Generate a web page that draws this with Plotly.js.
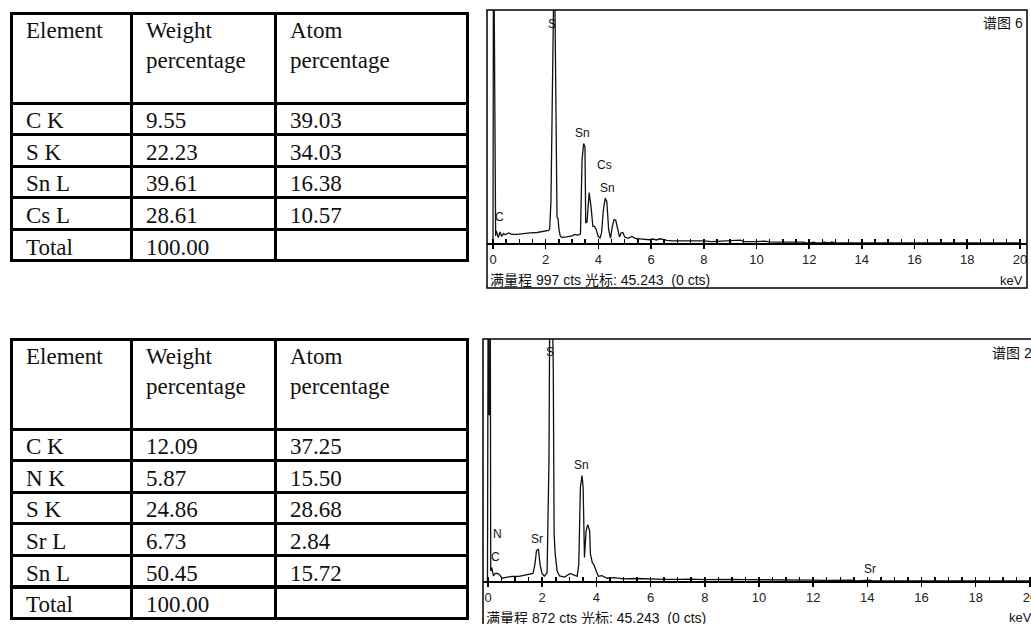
<!DOCTYPE html>
<html><head><meta charset="utf-8">
<script src="https://cdn.plot.ly/plotly-3.0.1.min.js"></script>
<style>html,body{margin:0;padding:0;background:#fff;}#chart{width:1031px;height:624px;}</style>
</head><body><div id="chart"></div>
<script>
// ---- Table data ----
const tableHeader = ['Element', 'Weight<br>percentage', 'Atom<br>percentage'];
const tab1Element = ['C K', 'S K', 'Sn L', 'Cs L', 'Total'];
const tab1Weight  = ['9.55', '22.23', '39.61', '28.61', '100.00'];
const tab1Atom    = ['39.03', '34.03', '16.38', '10.57', ''];
const tab2Element = ['C K', 'N K', 'S K', 'Sr L', 'Sn L', 'Total'];
const tab2Weight  = ['12.09', '5.87', '24.86', '6.73', '50.45', '100.00'];
const tab2Atom    = ['37.25', '15.50', '28.68', '2.84', '15.72', ''];

// ---- Spectrum 1 (谱图 6), counts, full scale 997 ----
const spec1Kev = [-0.02,0,0.02,0.05,0.06,0.08,0.10,0.11,0.16,0.20,0.27,0.33,0.40,0.46,0.59,0.71,0.90,1.16,1.41,1.67,1.92,2.11,2.15,2.20,2.24,2.27,2.33,2.36,2.40,2.43,2.47,2.50,2.55,2.60,2.80,3.00,3.10,3.20,3.30,3.32,3.38,3.44,3.49,3.52,3.57,3.65,3.72,3.79,3.85,3.92,3.99,4.06,4.12,4.19,4.26,4.32,4.39,4.46,4.53,4.59,4.66,4.73,4.80,4.86,4.93,5.00,5.13,5.27,5.40,5.67,5.94,6.07,6.20,6.34,6.60,6.80,7.00,7.20,7.50,7.80,8.00,8.30,8.50,8.80,9.00,9.40,9.50,9.80,10.00,10.30,10.50,10.80,11.00,11.40,11.80,11.90,12.00,12.20,12.25,12.50,12.55,12.80,12.85,13.00,20.00];
const spec1Cts = [0,0,1500,1500,760,760,30,54,40,23,47,28,41,35,43,37,37,41,43,45,51,54,60,180,525,1300,1300,910,250,110,105,60,30,24,26,31,37,34,37,40,355,426,412,85,90,216,156,71,71,57,28,21,43,142,192,178,57,21,71,99,97,57,26,43,45,26,20,28,20,17,14,17,13,18,11,9,9,7,8,10,9,6,7,9,7,12,6,5,6,8,5,4,4,5,4,0,0,4,0,0,4,0,4,0,0];

// ---- Spectrum 2 (谱图 2), counts, full scale 872 ----
const spec2Kev = [-0.02,-0.01,0.01,0.02,0.06,0.08,0.10,0.14,0.20,0.26,0.36,0.43,0.52,0.62,0.88,1.14,1.40,1.66,1.73,1.79,1.86,1.92,1.99,2.08,2.18,2.25,2.29,2.35,2.41,2.44,2.48,2.55,2.64,2.83,3.03,3.16,3.29,3.35,3.41,3.47,3.51,3.56,3.62,3.68,3.75,3.78,3.85,3.90,3.98,4.07,4.20,4.40,4.66,5.00,5.50,6.00,6.50,7.00,7.50,8.00,8.50,9.00,9.50,10.00,10.50,11.00,11.50,12.00,12.50,13.00,13.40,13.60,13.90,14.10,14.20,20.00];
const spec2Cts = [0,1300,1300,600,600,1300,36,48,18,27,27,22,10,12,17,17,21,27,60,109,115,60,27,17,30,435,1200,1200,749,169,97,36,18,14,27,22,17,60,338,380,338,85,181,203,181,97,66,60,39,17,19,10,12,8,9,7,6,6,7,5,6,6,5,5,4,4,3,3,2,2,3,0,3,3,0,0];

// ---- Peak labels ----
const spec1LabelText = ['S', 'Sn', 'Cs', 'Sn', 'C'];
const spec1LabelKev  = [2.24, 3.41, 4.22, 4.33, 0.26];
const spec1LabelCts  = [937, 469, 334, 234, 111];
const spec2LabelText = ['S', 'Sn', 'Sr', 'N', 'C', 'Sr'];
const spec2LabelKev  = [2.28, 3.45, 1.79, 0.36, 0.26, 14.08];
const spec2LabelCts  = [824, 419, 150, 169, 85, 42];

const spec1Title = '谱图 6', spec2Title = '谱图 2';
const spec1Footer = '满量程 997 cts 光标: 45.243  (0 cts)';
const spec2Footer = '满量程 872 cts 光标: 45.243  (0 cts)';
const spec1FullScale = 997, spec2FullScale = 872;
const xUnit = 'keV';

const W = 1031, H = 624;
const px = v => v / W, py = v => 1 - v / H;
const serif = 'Liberation Serif, Times New Roman, serif';
const sans = 'Liberation Sans, Arial, Noto Sans CJK SC, sans-serif';

function tableTrace(el, wt, at, top) {
  const bottom = top + 90 + 31.6 * el.length;
  return {
    type: 'table',
    domain: {x: [px(11), px(467)], y: [py(bottom + 2), py(top)]},
    columnwidth: [120, 144, 192],
    header: {
      values: tableHeader,
      align: 'left', height: 90,
      line: {color: '#000', width: 3}, fill: {color: '#fff'},
      font: {family: serif, size: 23, color: '#111'}
    },
    cells: {
      values: [el, wt, at],
      align: 'left', height: 31.6,
      line: {color: '#000', width: 3}, fill: {color: '#fff'},
      font: {family: serif, size: 23, color: '#111'}
    }
  };
}

const data = [
  tableTrace(tab1Element, tab1Weight, tab1Atom, 13),
  tableTrace(tab2Element, tab2Weight, tab2Atom, 339),
  {type: 'scatter', mode: 'lines', x: spec1Kev, y: spec1Cts, xaxis: 'x', yaxis: 'y',
   line: {color: '#111', width: 1.3, shape: 'linear'}, hoverinfo: 'skip'},
  {type: 'scatter', mode: 'lines', x: spec2Kev, y: spec2Cts, xaxis: 'x2', yaxis: 'y2',
   line: {color: '#111', width: 1.3, shape: 'linear'}, hoverinfo: 'skip'}
];

function xAxis(domain, range, yname) {
  return {
    domain: domain, range: range, anchor: yname,
    showgrid: false, zeroline: false, showline: true, linecolor: '#000', linewidth: 1.5,
    tick0: 0, dtick: 2, ticks: 'outside', ticklen: 4, tickwidth: 1.5, tickcolor: '#000',
    minor: {dtick: 0.5, ticks: 'inside', ticklen: 4, tickwidth: 1.5, tickcolor: '#000'},
    ticklabeloverflow: 'allow',
    tickfont: {family: sans, size: 13, color: '#222'}, fixedrange: true
  };
}
function yAxis(domain, full, xname) {
  return {domain: domain, range: [0, full], anchor: xname, visible: false, fixedrange: true};
}

const annotations = [];
spec1LabelText.forEach((t, i) => annotations.push({xref: 'x', yref: 'y', x: spec1LabelKev[i], y: spec1LabelCts[i], text: t, showarrow: false, font: {family: sans, size: 12, color: '#111'}}));
spec2LabelText.forEach((t, i) => annotations.push({xref: 'x2', yref: 'y2', x: spec2LabelKev[i], y: spec2LabelCts[i], text: t, showarrow: false, font: {family: sans, size: 12, color: '#111'}}));
[['x', 'y', spec1Title, spec1Footer, 0.996, -0.159], ['x2', 'y2', spec2Title, spec2Footer, 1.0055, -0.152]].forEach(([xa, ya, title, foot, xr, fy]) => {
  annotations.push({xref: xa + ' domain', yref: ya + ' domain', x: xr, y: 0.985, xanchor: 'right', yanchor: 'top', text: title, showarrow: false, font: {family: sans, size: 14, color: '#111'}});
  annotations.push({xref: xa + ' domain', yref: ya + ' domain', x: 0.002, y: fy, xanchor: 'left', yanchor: 'middle', text: foot, showarrow: false, font: {family: sans, size: 14, color: '#111'}});
  annotations.push({xref: xa + ' domain', yref: ya + ' domain', x: xr, y: fy, xanchor: 'right', yanchor: 'middle', text: xUnit, showarrow: false, font: {family: sans, size: 13, color: '#111'}});
});

const shapes = [
  {type: 'rect', xref: 'x domain', yref: 'y domain', x0: 0, x1: 1, y0: -0.193, y1: 1, line: {color: '#000', width: 1.5}},
  {type: 'rect', xref: 'x2 domain', yref: 'y2 domain', x0: 0, x1: 1.011, y0: -0.193, y1: 1, line: {color: '#000', width: 1.5}}
];

const layout = {
  width: W, height: H, margin: {l: 0, r: 0, t: 0, b: 0},
  paper_bgcolor: '#fff', plot_bgcolor: '#fff', showlegend: false,
  xaxis: xAxis([px(487), px(1027)], [-0.228, 20.27], 'y'),
  yaxis: yAxis([py(243), py(10)], spec1FullScale, 'x'),
  xaxis2: xAxis([px(483), 1], [-0.185, 20.04], 'y2'),
  yaxis2: yAxis([py(581), py(339)], spec2FullScale, 'x2'),
  annotations: annotations, shapes: shapes
};

Plotly.newPlot('chart', data, layout, {staticPlot: true, displayModeBar: false}).then(gd => {
  // widen the cell text inset to match the reference's padding
  gd.querySelectorAll('.cell-text-holder').forEach(g => {
    const multi = g.querySelectorAll('tspan.line').length > 1 || /percentage/.test(g.textContent);
    const t = g.getAttribute('transform') || '';
    g.setAttribute('transform', t + (multi ? ' translate(7,-3)' : ' translate(7,0)'));
  });
});
</script></body></html>
